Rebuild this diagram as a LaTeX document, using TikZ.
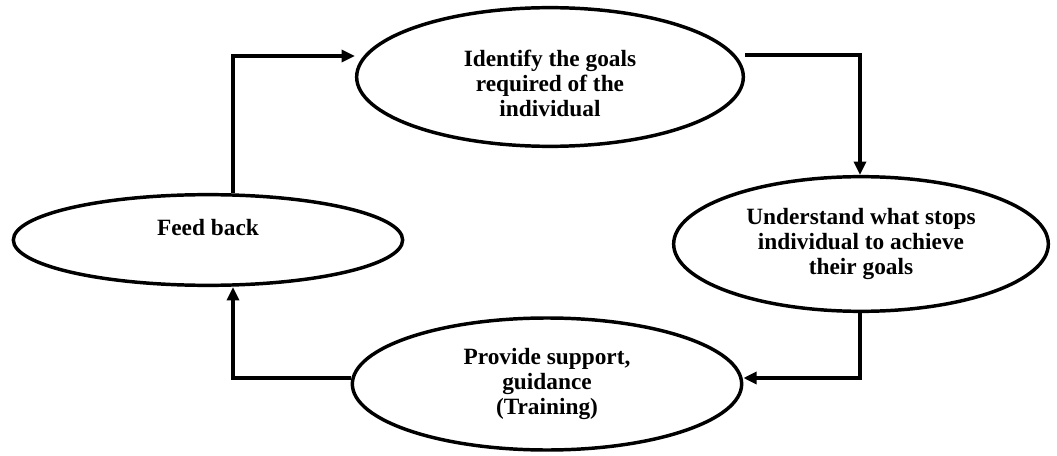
\documentclass[tikz,border=0pt]{standalone}
\usepackage{fontspec}
\setmainfont{Liberation Serif}
\usetikzlibrary{shapes.geometric,arrows.meta}

\begin{document}
\begin{tikzpicture}[x=0.75pt,y=-0.75pt,
    stage/.style={draw,ellipse,line width=2.6pt,inner sep=0pt,align=center,
      font=\fontsize{17.5}{18.5}\selectfont\bfseries},
    flow/.style={line width=3pt,-{Triangle[length=10pt,width=9pt]}}]
      \useasboundingbox (0,0) rectangle (1057,456);
      % the four stages of the cycle
      \node[stage,minimum width=290pt,minimum height=104pt] (goals) at (550,77)
        {\rule{0pt}{22pt}Identify the goals\\required of the\\individual};
      \node[stage,minimum width=281pt,minimum height=101pt] (stops) at (861,244)
        {Understand what stops\\individual to achieve\\their goals};
      \node[stage,minimum width=292pt,minimum height=99pt] (support) at (547,384)
        {Provide support,\\guidance\\(Training)};
      \node[stage,minimum width=292pt,minimum height=68pt] (feedback) at (208,240)
        {Feed back\\\phantom{X}};
      % corners of the connectors
      \coordinate (nw) at (233,56);
      \coordinate (ne) at (860,55);
      \coordinate (se) at (860,378);
      \coordinate (sw) at (233,378);
      \draw[flow] (goals.east |- ne) -- (ne) -- (stops.north -| ne);
      \draw[flow] (stops.south -| se) -- (se) -- (support.east |- se);
      \draw[flow] (support.west |- sw) -- (sw) -- (feedback.south -| sw);
      \draw[flow] (feedback.north -| nw) -- (nw) -- (goals.west |- nw);
    \end{tikzpicture}
\end{document}
